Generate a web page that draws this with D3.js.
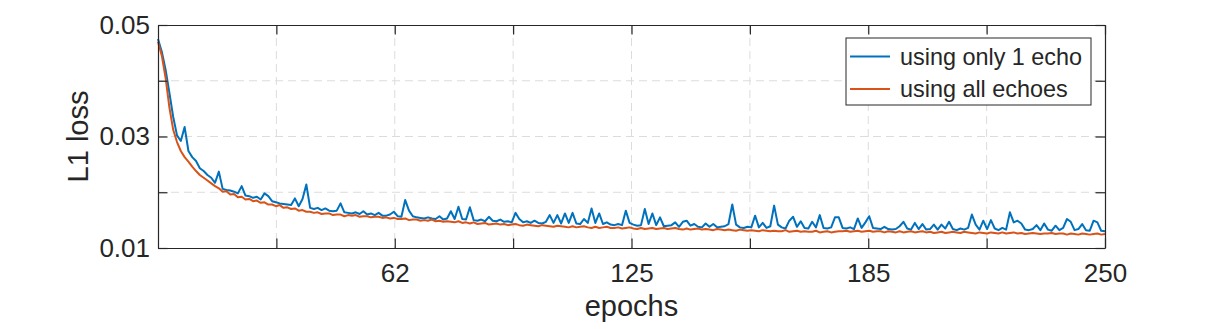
<!DOCTYPE html>
<html>
<head>
<meta charset="utf-8">
<script src="https://cdn.jsdelivr.net/npm/d3@7"></script>
<style>
  body { margin: 0; background: #fff; }
  svg text { font-family: Arial, "Liberation Sans", Helvetica, sans-serif; fill: #262626; }
</style>
</head>
<body>
<svg id="chart" width="1220" height="329"></svg>
<script>
// epochs 1..250
const epochs = d3.range(1, 251);

// L1 loss
const lossOneEcho = [
  0.0475,0.0452,0.0420,0.0378,0.0335,0.0302,0.0292,0.0317,0.0274,0.0263,
  0.0256,0.0243,0.0238,0.0231,0.0226,0.0217,0.0237,0.0206,0.0204,0.0203,
  0.0201,0.0198,0.0211,0.0194,0.0193,0.0190,0.0192,0.0187,0.0198,0.0193,
  0.0184,0.0182,0.0180,0.0179,0.0178,0.0177,0.0189,0.0175,0.0188,0.0214,
  0.0172,0.0170,0.0172,0.0168,0.0171,0.0167,0.0166,0.0167,0.0180,0.0164,
  0.0163,0.0162,0.0164,0.0161,0.0166,0.0160,0.0162,0.0159,0.0163,0.0158,
  0.0158,0.0160,0.0165,0.0157,0.0156,0.0186,0.0167,0.0157,0.0155,0.0154,
  0.0153,0.0155,0.0153,0.0152,0.0157,0.0151,0.0153,0.0166,0.0152,0.0174,
  0.0152,0.0151,0.0173,0.0150,0.0149,0.0151,0.0148,0.0156,0.0149,0.0148,
  0.0151,0.0147,0.0148,0.0146,0.0163,0.0152,0.0146,0.0148,0.0145,0.0149,
  0.0145,0.0144,0.0147,0.0159,0.0145,0.0159,0.0144,0.0162,0.0145,0.0163,
  0.0144,0.0143,0.0152,0.0145,0.0171,0.0145,0.0162,0.0143,0.0146,0.0142,
  0.0141,0.0143,0.0141,0.0167,0.0145,0.0142,0.0140,0.0141,0.0170,0.0143,
  0.0162,0.0141,0.0155,0.0139,0.0140,0.0141,0.0146,0.0138,0.0147,0.0149,
  0.0140,0.0143,0.0138,0.0137,0.0144,0.0138,0.0143,0.0137,0.0138,0.0139,
  0.0143,0.0178,0.0142,0.0137,0.0136,0.0138,0.0137,0.0158,0.0137,0.0145,
  0.0136,0.0139,0.0176,0.0142,0.0137,0.0135,0.0149,0.0156,0.0138,0.0148,
  0.0136,0.0135,0.0147,0.0137,0.0159,0.0136,0.0135,0.0137,0.0155,0.0155,
  0.0136,0.0135,0.0137,0.0134,0.0153,0.0136,0.0146,0.0157,0.0136,0.0135,
  0.0134,0.0138,0.0134,0.0133,0.0134,0.0139,0.0147,0.0135,0.0133,0.0145,
  0.0134,0.0143,0.0133,0.0134,0.0142,0.0133,0.0142,0.0135,0.0147,0.0134,
  0.0132,0.0135,0.0133,0.0136,0.0160,0.0142,0.0133,0.0149,0.0134,0.0150,
  0.0135,0.0132,0.0136,0.0133,0.0164,0.0146,0.0149,0.0144,0.0133,0.0132,
  0.0134,0.0141,0.0132,0.0144,0.0133,0.0131,0.0140,0.0132,0.0136,0.0152,
  0.0147,0.0132,0.0134,0.0143,0.0132,0.0131,0.0149,0.0146,0.0131,0.0130
];
const lossAllEchoes = [
  0.0470,0.0445,0.0405,0.0352,0.0312,0.0290,0.0274,0.0263,0.0255,0.0246,
  0.0238,0.0231,0.0226,0.0221,0.0216,0.0211,0.0207,0.0201,0.0202,0.0196,
  0.0197,0.0191,0.0192,0.0187,0.0188,0.0184,0.0185,0.0181,0.0182,0.0178,
  0.0178,0.0175,0.0177,0.0172,0.0173,0.0170,0.0171,0.0167,0.0168,0.0165,
  0.0165,0.0163,0.0164,0.0161,0.0162,0.0162,0.0159,0.0160,0.0160,0.0157,
  0.0159,0.0158,0.0159,0.0156,0.0157,0.0157,0.0155,0.0156,0.0156,0.0154,
  0.0155,0.0153,0.0154,0.0152,0.0152,0.0153,0.0150,0.0151,0.0151,0.0149,
  0.0150,0.0149,0.0151,0.0148,0.0149,0.0147,0.0148,0.0147,0.0146,0.0148,
  0.0145,0.0146,0.0144,0.0146,0.0143,0.0144,0.0145,0.0142,0.0143,0.0144,
  0.0142,0.0143,0.0141,0.0142,0.0143,0.0141,0.0140,0.0142,0.0141,0.0140,
  0.0139,0.0141,0.0140,0.0139,0.0138,0.0140,0.0139,0.0138,0.0137,0.0139,
  0.0137,0.0138,0.0139,0.0137,0.0136,0.0138,0.0136,0.0137,0.0138,0.0136,
  0.0136,0.0137,0.0135,0.0136,0.0137,0.0135,0.0134,0.0136,0.0134,0.0135,
  0.0136,0.0134,0.0135,0.0136,0.0134,0.0135,0.0136,0.0134,0.0133,0.0135,
  0.0133,0.0134,0.0135,0.0133,0.0134,0.0133,0.0132,0.0134,0.0133,0.0132,
  0.0133,0.0132,0.0131,0.0133,0.0132,0.0131,0.0132,0.0131,0.0130,0.0132,
  0.0131,0.0130,0.0131,0.0130,0.0130,0.0132,0.0129,0.0130,0.0131,0.0129,
  0.0130,0.0129,0.0129,0.0131,0.0128,0.0129,0.0130,0.0128,0.0129,0.0130,
  0.0130,0.0131,0.0129,0.0130,0.0131,0.0129,0.0130,0.0131,0.0129,0.0130,
  0.0130,0.0128,0.0130,0.0129,0.0128,0.0130,0.0128,0.0129,0.0130,0.0128,
  0.0129,0.0130,0.0128,0.0129,0.0127,0.0128,0.0129,0.0127,0.0128,0.0129,
  0.0128,0.0127,0.0129,0.0128,0.0127,0.0126,0.0128,0.0127,0.0126,0.0128,
  0.0127,0.0126,0.0128,0.0126,0.0127,0.0128,0.0126,0.0127,0.0125,0.0126,
  0.0127,0.0126,0.0125,0.0126,0.0126,0.0127,0.0125,0.0126,0.0126,0.0124,
  0.0126,0.0125,0.0124,0.0126,0.0125,0.0124,0.0125,0.0126,0.0124,0.0125
];

const seriesNames = ['using only 1 echo', 'using all echoes'];
const seriesColors = ['#0072BD', '#D95319'];

const xTickValues = [32.125, 63.25, 94.375, 125.5, 156.625, 187.75, 218.875, 250];
const xTickLabels = ['', '62', '', '125', '', '185', '', '250'];
const yTickValues = [0.01, 0.02, 0.03, 0.04, 0.05];
const yTickLabels = ['0.01', '', '0.03', '', '0.05'];

const axisColor = '#262626';
const box = {left: 158, right: 1105, top: 25, bottom: 248};
const tickLen = 9.5;

let svg = d3.select('#chart');

let x = d3.scaleLinear().domain([1, 250]).range([box.left, box.right]);
let y = d3.scaleLinear().domain([0.01, 0.05]).range([box.bottom, box.top]);

// grid
let grid = svg.append('g').attr('class', 'grid')
    .attr('stroke', '#dcdcdc').attr('stroke-width', 1).attr('stroke-dasharray', '8,5');
grid.selectAll('.vgrid')
    .data(xTickValues.slice(0, -1))
    .join('line')
    .attr('x1', d => x(d)).attr('x2', d => x(d))
    .attr('y1', box.top).attr('y2', box.bottom);
grid.selectAll('.hgrid')
    .data(yTickValues.slice(1, -1))
    .join('line')
    .attr('class', 'hgrid')
    .attr('x1', box.left).attr('x2', box.right)
    .attr('y1', d => y(d)).attr('y2', d => y(d));

// data lines
let line = d3.line()
    .x((d, i) => x(epochs[i]))
    .y(d => y(d));

[lossOneEcho, lossAllEchoes].forEach((series, k) => {
    svg.append('path')
        .datum(series)
        .attr('fill', 'none')
        .attr('stroke', seriesColors[k])
        .attr('stroke-width', 2)
        .attr('stroke-linejoin', 'round')
        .attr('d', line);
});

// axes (ticks point inward, box on)
let xAxisBottom = d3.axisBottom(x).tickValues(xTickValues)
    .tickFormat((d, i) => xTickLabels[i]).tickSizeInner(-tickLen).tickSizeOuter(0).tickPadding(16);
let xAxisTop = d3.axisTop(x).tickValues(xTickValues)
    .tickFormat('').tickSizeInner(-tickLen).tickSizeOuter(0);
let yAxisLeft = d3.axisLeft(y).tickValues(yTickValues)
    .tickFormat((d, i) => yTickLabels[i]).tickSizeInner(-tickLen).tickSizeOuter(0).tickPadding(8);
let yAxisRight = d3.axisRight(y).tickValues(yTickValues)
    .tickFormat('').tickSizeInner(-tickLen).tickSizeOuter(0);

function styleAxis(g) {
    g.select('.domain').attr('stroke', axisColor).attr('stroke-width', 1.2);
    g.selectAll('.tick line').attr('stroke', axisColor).attr('stroke-width', 1.2);
    g.selectAll('.tick text').attr('fill', axisColor)
        .style('font-size', '26px')
        .style('font-family', 'Arial, "Liberation Sans", sans-serif');
}

svg.append('g').attr('transform', `translate(0,${box.bottom})`).call(xAxisBottom).call(styleAxis);
svg.append('g').attr('transform', `translate(0,${box.top})`).call(xAxisTop).call(styleAxis);
svg.append('g').attr('transform', `translate(${box.left},0)`).call(yAxisLeft).call(styleAxis);
svg.append('g').attr('transform', `translate(${box.right},0)`).call(yAxisRight).call(styleAxis);

// axis labels
svg.append('text')
    .attr('x', (box.left + box.right) / 2)
    .attr('y', 316)
    .attr('text-anchor', 'middle')
    .style('font-size', '29px')
    .text('epochs');

svg.append('text')
    .attr('transform', `translate(88,${(box.top + box.bottom) / 2}) rotate(-90)`)
    .attr('text-anchor', 'middle')
    .style('font-size', '29px')
    .text('L1 loss');

// legend
let legend = svg.append('g').attr('transform', 'translate(846,38)');
legend.append('rect')
    .attr('width', 245).attr('height', 67)
    .attr('fill', '#fff').attr('stroke', axisColor).attr('stroke-width', 1);

let items = legend.selectAll('.item')
    .data(seriesNames)
    .join('g')
    .attr('class', 'item')
    .attr('transform', (d, i) => `translate(0,${18.5 + i * 32.5})`);
items.append('line')
    .attr('x1', 4).attr('x2', 44)
    .attr('stroke', (d, i) => seriesColors[i])
    .attr('stroke-width', 2);
items.append('text')
    .attr('x', 54).attr('dy', '0.35em')
    .style('font-size', '23.4px')
    .text(d => d);
</script>
</body>
</html>
